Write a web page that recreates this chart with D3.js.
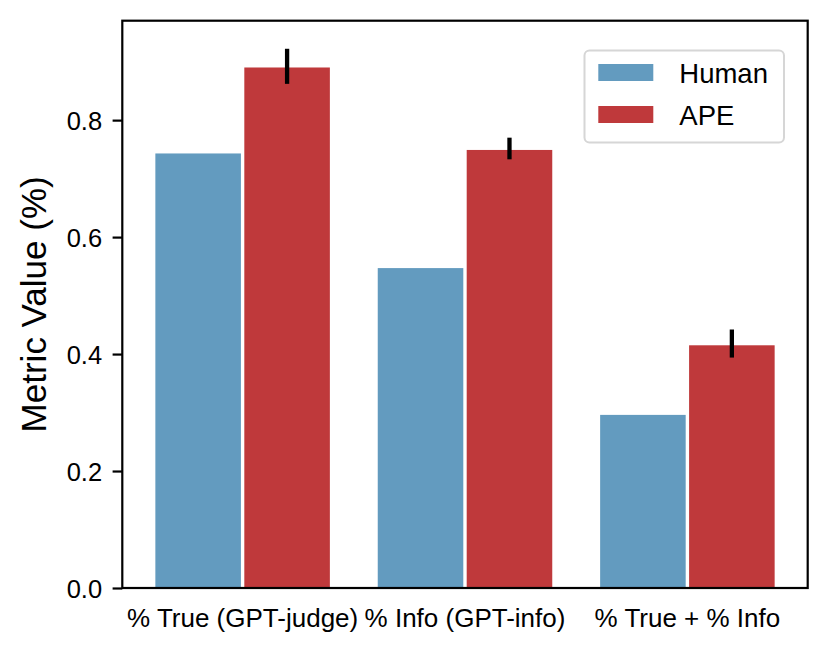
<!DOCTYPE html>
<html>
<head>
<meta charset="utf-8">
<script src="https://cdn.jsdelivr.net/npm/d3@7"></script>
<style>
  html, body { margin: 0; padding: 0; background: #fff; }
  svg { display: block; font-family: "Liberation Sans", Arial, Helvetica, sans-serif; }
</style>
</head>
<body>
<svg id="chart" width="829" height="655"></svg>
<script>
// ---- data ----
const categories = ["% True (GPT-judge)", "% Info (GPT-info)", "% True + % Info"];
const seriesNames = ["Human", "APE"];
const humanValues = [0.743, 0.547, 0.296];
const apeValues = [0.890, 0.749, 0.415];
const apeErrLow = [0.862, 0.733, 0.394];
const apeErrHigh = [0.922, 0.770, 0.442];
const yTicks = [0.0, 0.2, 0.4, 0.6, 0.8];
const yLabel = "Metric Value (%)";

const colors = { Human: "#639bbf", APE: "#bf393b" };

// ---- layout ----
const plotLeft = 122.3, plotRight = 807.7, plotTop = 20.7, plotBottom = 588;
const svg = d3.select("#chart");

const x = d3.scaleBand().domain(categories).range([plotLeft, plotRight])
  .paddingInner(0).paddingOuter(0.041);
const groupW = x.bandwidth() * 0.8;
const xs = d3.scaleBand().domain(seriesNames).range([0, groupW]);
const y = d3.scaleLinear().domain([0, 0.97]).range([plotBottom, plotTop]);

const table = categories.map((c, i) => ({
  cat: c,
  vals: [
    { s: "Human", v: humanValues[i] },
    { s: "APE", v: apeValues[i], lo: apeErrLow[i], hi: apeErrHigh[i] }
  ]
}));

const inset = 1.7;
const groups = svg.append("g").selectAll("g").data(table).join("g")
  .attr("transform", d => `translate(${x(d.cat) + (x.bandwidth() - groupW) / 2},0)`);

groups.selectAll("rect").data(d => d.vals).join("rect")
  .attr("x", d => xs(d.s) + inset)
  .attr("width", xs.bandwidth() - 2 * inset)
  .attr("y", d => y(d.v))
  .attr("height", d => y(0) - y(d.v))
  .attr("fill", d => colors[d.s]);

groups.selectAll("line.err").data(d => d.vals.filter(v => v.lo !== undefined)).join("line")
  .attr("class", "err")
  .attr("x1", d => xs(d.s) + xs.bandwidth() / 2)
  .attr("x2", d => xs(d.s) + xs.bandwidth() / 2)
  .attr("y1", d => y(d.lo))
  .attr("y2", d => y(d.hi))
  .attr("stroke", "#000")
  .attr("stroke-width", 4.3);

// ---- axes ----
const yAxis = d3.axisLeft(y).tickValues(yTicks).tickFormat(d3.format(".1f"))
  .tickSize(9.7).tickPadding(10.5);
const gy = svg.append("g").attr("transform", `translate(${plotLeft},0)`).call(yAxis);
gy.select(".domain").remove();
gy.selectAll(".tick line").attr("stroke", "#000").attr("stroke-width", 2.2);
gy.selectAll(".tick text").attr("fill", "#000").style("font-size", "25.5px")
  .attr("dy", "0.36em");

const xAxis = d3.axisBottom(x).tickSize(0).tickPadding(20);
const gx = svg.append("g").attr("transform", `translate(0,${plotBottom})`).call(xAxis);
gx.select(".domain").remove();
gx.selectAll(".tick text").attr("fill", "#000").style("font-size", "26px")
  .attr("dy", "0.72em");

// frame
svg.append("rect")
  .attr("x", plotLeft).attr("y", plotTop)
  .attr("width", plotRight - plotLeft).attr("height", plotBottom - plotTop)
  .attr("fill", "none").attr("stroke", "#000").attr("stroke-width", 2.2);

// y label
svg.append("text")
  .attr("transform", `translate(45.5,${(plotTop + plotBottom) / 2}) rotate(-90)`)
  .attr("text-anchor", "middle")
  .style("font-size", "35px")
  .attr("fill", "#000")
  .text(yLabel);

// ---- legend ----
const lg = svg.append("g");
lg.append("rect")
  .attr("x", 584.5).attr("y", 50.5).attr("width", 199.5).attr("height", 92)
  .attr("rx", 5).attr("ry", 5)
  .attr("fill", "rgba(255,255,255,0.85)")
  .attr("stroke", "#d6d6d6").attr("stroke-width", 2);
const legendY = d3.scalePoint().domain(seriesNames).range([72.5, 114.5]);
seriesNames.forEach(s => {
  lg.append("rect")
    .attr("x", 598.3).attr("y", legendY(s) - 8.5)
    .attr("width", 55).attr("height", 17)
    .attr("fill", colors[s]);
  lg.append("text")
    .attr("x", 679.3).attr("y", legendY(s) + 10)
    .style("font-size", "27.5px")
    .attr("fill", "#000")
    .text(s);
});
</script>
</body>
</html>
